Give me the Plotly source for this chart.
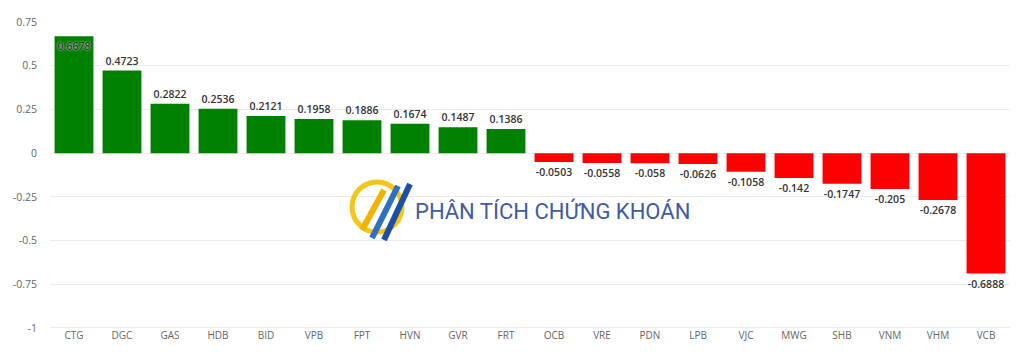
import plotly.graph_objects as go

categories = ["CTG", "DGC", "GAS", "HDB", "BID", "VPB", "FPT", "HVN", "GVR", "FRT",
              "OCB", "VRE", "PDN", "LPB", "VJC", "MWG", "SHB", "VNM", "VHM", "VCB"]
values = [0.6678, 0.4723, 0.2822, 0.2536, 0.2121, 0.1958, 0.1886, 0.1674, 0.1487, 0.1386,
          -0.0503, -0.0558, -0.058, -0.0626, -0.1058, -0.142, -0.1747, -0.205, -0.2678, -0.6888]
tick_vals = [0.75, 0.5, 0.25, 0, -0.25, -0.5, -0.75, -1]
tick_text = ["0.75", "0.5", "0.25", "0", "-0.25", "-0.5", "-0.75", "-1"]

colors = ["#008000" if v >= 0 else "#ff0000" for v in values]
labels = [str(v) for v in values]
positions = ["inside" if v > 0.6 else "outside" for v in values]

FONT = "Open Sans, Lato, sans-serif"

fig = go.Figure(go.Bar(
    x=categories, y=values, marker=dict(color=colors, line=dict(width=0)),
    text=labels, textposition=positions, insidetextanchor="end", textangle=0,
    textfont=dict(family=FONT, size=10.5, color="#333333", weight=600),
    insidetextfont=dict(family=FONT, size=10.5, color="#333333", weight=600,
                        shadow="0px 0px 2px #ffffff"),
    outsidetextfont=dict(family=FONT, size=10.5, color="#333333", weight=600),
    constraintext="none", cliponaxis=False, hoverinfo="skip",
))

# watermark
shapes = []
def px(x):
    return (x - 50) / 960
def py(y):
    return (328 - y) / 306
shapes.append(dict(type="circle", xref="paper", yref="paper",
                   x0=px(352), x1=px(402), y0=py(232), y1=py(182),
                   line=dict(color="#f5c518", width=5), layer="above"))
for (x0, y0, x1, y1, c) in [(362, 230, 384, 190, "#f0b400"),
                            (372, 238, 398, 186, "#2f6fc4"),
                            (384, 240, 410, 184, "#1e4fa8")]:
    shapes.append(dict(type="line", xref="paper", yref="paper",
                       x0=px(x0), y0=py(y0), x1=px(x1), y1=py(y1),
                       line=dict(color=c, width=6), layer="above"))

fig.update_layout(
    width=1024, height=355,
    margin=dict(l=50, r=14, t=22, b=27),
    paper_bgcolor="white", plot_bgcolor="white",
    bargap=0.19, showlegend=False,
    font=dict(family=FONT, size=11, color="#666666"),
    shapes=shapes,
    annotations=[dict(text="PHÂN TÍCH CHỨNG KHOÁN", xref="paper", yref="paper",
                      x=px(413), y=py(211), xanchor="left", yanchor="middle",
                      showarrow=False,
                      font=dict(family="Roboto, sans-serif", size=22, color="#3f5aa6"))],
    xaxis=dict(showgrid=False, showline=False, zeroline=False, ticks="",
               tickfont=dict(size=10, color="#666666")),
    yaxis=dict(range=[-1, 0.75], tickvals=tick_vals, ticktext=tick_text,
               showgrid=True, gridcolor="#ebebeb", gridwidth=1,
               zeroline=False, showline=False, ticks="", ticklabelstandoff=12,
               tickfont=dict(size=10.5, color="#666666")),
)
fig.add_hline(y=-1, line=dict(color="#ccd6eb", width=1))

fig.write_html("out.html")
